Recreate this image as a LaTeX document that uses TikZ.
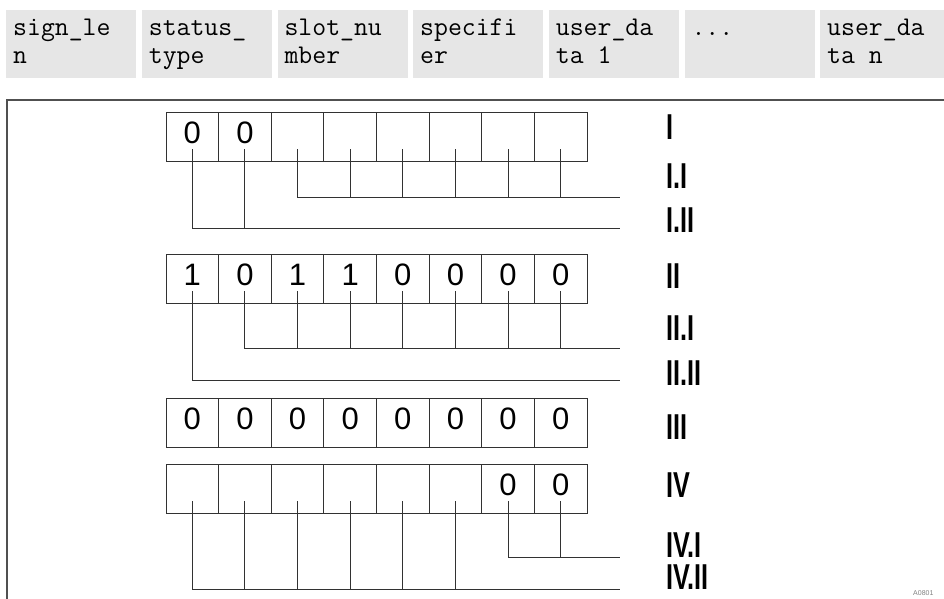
\documentclass[tikz,border=0pt]{standalone}
\usepackage{fontspec}
\setmainfont{Liberation Sans}
\usepackage{graphicx}
\usetikzlibrary{calc}
\definecolor{cellgray}{RGB}{230,230,230}
\definecolor{framegray}{RGB}{80,80,80}
\definecolor{linegray}{RGB}{50,50,50}

\tikzset{
  headcell/.style={fill=cellgray, anchor=north west, inner xsep=7pt, inner ysep=6pt,
    font=\ttfamily\fontsize{27}{28}\selectfont},
  bitcell/.style={draw=linegray, line width=0.9pt, minimum width=52.625pt, minimum height=49pt,
    inner sep=0pt, outer sep=0pt, text depth=8pt, font=\fontsize{31}{31}\selectfont},
  tick/.style={draw=linegray, line width=0.9pt},
  rowlabel/.style={anchor=base west, inner sep=0pt, font=\bfseries\fontsize{36}{36}\selectfont}
}
\newcommand{\narrow}[1]{\scalebox{0.7}[1]{#1}}

\begin{document}
\begin{tikzpicture}[x=1pt, y=-1pt]

% Page
\useasboundingbox (0,0) rectangle (944,598);

% Header fields
\foreach \t [count=\k] in {sign\_le\\n, status\_\\type, slot\_nu\\mber, specifi\\er, user\_da\\ta 1, .{}.{}., user\_da\\ta n} {
  \node[headcell] (hd\k) at ({6 + 135.67*(\k-1)},10) {\parbox[t][56pt][t]{116pt}{\raggedright\strut\t}};
}

% Frame
\draw[framegray, line width=2pt] (960,100) -- (6.5,100) -- (6.5,610);

% Bit rows
\foreach \r/\y/\vals in {1/136.5/{0,0,{},{},{},{},{},{}}, 2/278.5/{1,0,1,1,0,0,0,0},
    3/423/{0,0,0,0,0,0,0,0}, 4/488.5/{{},{},{},{},{},{},0,0}} {
  \foreach \v [count=\c] in \vals {
    \node[bitcell] (r\r b\c) at ({166 + 52.625*(\c-0.5)},\y) {\v};
  }
}

% Bracket ends
\coordinate (e11) at (620,197);
\coordinate (e12) at (620,228);
\coordinate (e21) at (620,348);
\coordinate (e22) at (620,380);
\coordinate (e41) at (620,557);
\coordinate (e42) at (620,589);

% Brackets: row/first bit/last bit/end
\foreach \r/\a/\b/\e in {1/3/8/e11, 1/1/2/e12, 2/2/8/e21, 2/1/1/e22, 4/7/8/e41, 4/1/6/e42} {
  \coordinate (t0) at ($(r\r b\a.south)+(0,-12)$);
  \draw[tick] (t0) |- (\e);
  \foreach \c in {\a,...,\b} {
    \coordinate (t) at ($(r\r b\c.south)+(0,-12)$);
    \draw[tick] (t) -- (t |- \e);
  }
}

% Labels
\foreach \n/\y/\t in {I/139/I, I1/188/I.I, I2/232/I.II, II/288/II, II1/340/II.I, II2/385/II.II,
    III/439/III, IV/497/IV, IV1/557/IV.I, IV2/589/IV.II} {
  \node[rowlabel] (lb\n) at (666,\y) {\narrow{\t}};
}

% Document id
\node[anchor=north west, inner sep=0pt, text=gray, font=\fontsize{7}{7}\selectfont] (docid) at (913,590) {A0801};

\end{tikzpicture}
\end{document}
